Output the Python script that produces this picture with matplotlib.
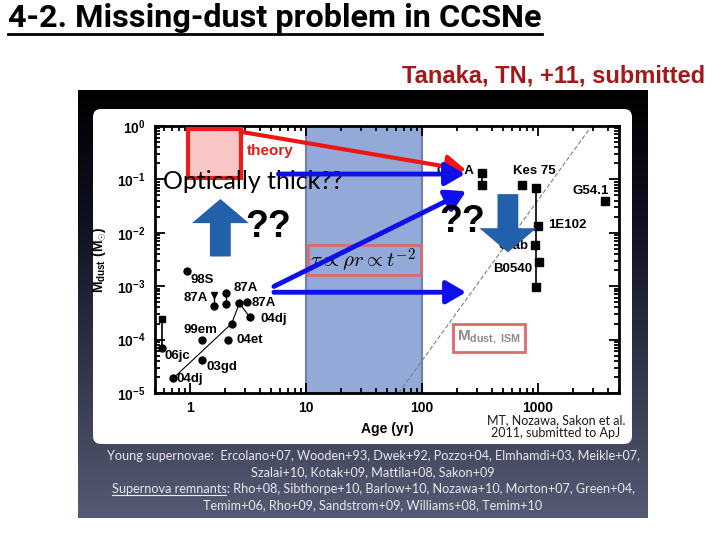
import numpy as np
import matplotlib
matplotlib.use('Agg')
import matplotlib.pyplot as plt
from matplotlib.patches import Rectangle, FancyBboxPatch
from matplotlib.colors import LinearSegmentedColormap
from matplotlib.ticker import NullFormatter

plt.rcParams['font.family'] = ['Liberation Sans', 'DejaVu Sans']
plt.rcParams['mathtext.fontset'] = 'custom'
plt.rcParams['mathtext.rm'] = 'Liberation Sans'
plt.rcParams['mathtext.bf'] = 'Liberation Sans:bold'
plt.rcParams['mathtext.it'] = 'Liberation Sans:italic'

# young supernovae (age in yr, dust mass in Msun)
sn98S_t = [0.95]
sn98S_m = [1.9e-3]
sn87A_a_t = [1.62, 1.62]
sn87A_a_m = [6.7e-4, 4.2e-4]
sn87A_b_t = [2.05, 2.05]
sn87A_b_m = [7.5e-4, 4.6e-4]
sn87A_c_t = [3.1]
sn87A_c_m = [5.0e-4]
sn04dj_t = [0.72, 2.29, 2.67, 3.3]
sn04dj_m = [1.9e-5, 2.0e-4, 4.8e-4, 2.6e-4]
sn99em_t = [1.26]
sn99em_m = [1.0e-4]
sn04et_t = [2.12]
sn04et_m = [1.0e-4]
sn03gd_t = [1.26]
sn03gd_m = [4.1e-5]
sn06jc_t = [0.575, 0.575]
sn06jc_m = [2.46e-4, 7.06e-5]

# supernova remnants
casA_t = [330, 330]
casA_m = [0.129, 0.079]
kes75_t = [728]
kes75_m = [0.079]
crabgrp_t = [957, 957]          # vertical range line
crabgrp_m = [0.069, 9.6e-4]
snr_x1000_t = [957, 1002, 938, 1016, 957]
snr_x1000_m = [0.069, 0.0136, 5.8e-3, 2.9e-3, 9.6e-4]
g541_t = [3810]
g541_m = [0.039]

# swept-up ISM dust mass line
ism_t = [63, 2900]
ism_m = [1.0e-5, 1.0]

# point labels: text, age, mass (label centres)
labels = [
    ('98S', 1.28, 1.33e-3), ('87A', 1.13, 5.9e-4), ('87A', 3.01, 9.1e-4),
    ('87A', 4.31, 4.95e-4), ('04dj', 5.26, 2.39e-4), ('99em', 1.23, 1.49e-4),
    ('04et', 3.26, 9.7e-5), ('06jc', 0.776, 4.85e-5), ('03gd', 1.9, 3.02e-5),
    ('04dj', 1.0, 1.8e-5), ('Cas A', 195, 0.146), ('Kes 75', 940, 0.146),
    ('G54.1', 2870, 0.0617), ('1E102', 1810, 0.0142), ('Crab', 620, 5.75e-3),
    ('B0540', 607, 2.14e-3),
]

refs = [
    'Young supernovae:  Ercolano+07, Wooden+93, Dwek+92, Pozzo+04, Elmhamdi+03, Meikle+07,',
    'Szalai+10, Kotak+09, Mattila+08, Sakon+09',
    'Supernova remnants: Rho+08, Sibthorpe+10, Barlow+10, Nozawa+10, Morton+07, Green+04,',
    'Temim+06, Rho+09, Sandstrom+09, Williams+08, Temim+10',
]

fig = plt.figure(figsize=(7.2, 5.4), dpi=100)
fig.patch.set_facecolor('white')

# background in pixel units
bg = fig.add_axes([0, 0, 1, 1])
bg.set_xlim(0, 720)
bg.set_ylim(540, 0)
bg.axis('off')

cmap = LinearSegmentedColormap.from_list('panel', [(0, '#000000'), (0.3, '#0e1020'), (1, '#565b74')])
grad = np.linspace(0, 1, 256).reshape(-1, 1)
bg.imshow(grad, extent=[78, 648, 518, 90], cmap=cmap, aspect='auto', zorder=0)
bg.add_patch(FancyBboxPatch((93, 109), 539, 335, boxstyle='round,pad=0,rounding_size=8',
                            fc='white', ec='none', zorder=1))

title = bg.text(8, 27, '4-2. Missing-dust problem in CCSNe', fontsize=23.3, fontweight='bold',
                family=['Roboto', 'DejaVu Sans'], va='baseline', ha='left')
bg.text(705, 82, 'Tanaka, TN, +11, submitted', fontsize=17, fontweight='bold',
        color='#a31818', ha='right', va='baseline')

bg.text(556, 420, 'MT, Nozawa, Sakon et al.', fontsize=9, family=['Lato', 'DejaVu Sans'],
        color='#1a1a1a', ha='center', va='center', zorder=2)
bg.text(556, 433, '2011, submitted to ApJ', fontsize=9, family=['Lato', 'DejaVu Sans'],
        color='#1a1a1a', ha='center', va='center', zorder=2)

ref_fs = 9.1
ref_y = [456, 472, 489, 505]
ref_texts = []
for line, yy in zip(refs, ref_y):
    t = bg.text(373, yy, line, fontsize=ref_fs, family=['Lato', 'DejaVu Sans'], color='#e8e8f0',
                ha='center', va='center', zorder=2)
    ref_texts.append(t)

# main plot
ax = fig.add_axes([155 / 720, (540 - 393) / 540, 464 / 720, 267 / 540])
ax.set_xscale('log')
ax.set_yscale('log')
ax.set_xlim(0.5, 5000)
ax.set_ylim(1e-5, 1)

ax.axvspan(10, 100, facecolor='#93aad9', edgecolor='#6f7fb5', lw=1.5, zorder=0)
ax.plot(ism_t, ism_m, color='#808080', lw=0.8, ls=(0, (4, 2)), zorder=1)

ms_c = 5
ms_s = 5.5
ax.plot(sn98S_t, sn98S_m, 'o', color='black', ms=ms_c, zorder=3)
ax.plot(sn87A_a_t, sn87A_a_m, '-', color='black', lw=1, zorder=3)
ax.plot(sn87A_a_t[:1], sn87A_a_m[:1], 'v', color='black', ms=ms_c, zorder=3)
ax.plot(sn87A_a_t[1:], sn87A_a_m[1:], 'o', color='black', ms=ms_c, zorder=3)
ax.plot(sn87A_b_t, sn87A_b_m, 'o-', color='black', ms=ms_c, lw=1, zorder=3)
ax.plot(sn87A_c_t, sn87A_c_m, 'o', color='black', ms=ms_c, zorder=3)
ax.plot(sn04dj_t, sn04dj_m, 'o-', color='black', ms=ms_c, lw=0.8, zorder=3)
ax.plot(sn99em_t, sn99em_m, 'o', color='black', ms=ms_c, zorder=3)
ax.plot(sn04et_t, sn04et_m, 'o', color='black', ms=ms_c, zorder=3)
ax.plot(sn03gd_t, sn03gd_m, 'o', color='black', ms=ms_c, zorder=3)
ax.plot(sn06jc_t, sn06jc_m, '-', color='black', lw=1.2, zorder=3)
ax.plot(sn06jc_t[:1], sn06jc_m[:1], 's', color='black', ms=ms_s - 1, zorder=3)
ax.plot(sn06jc_t[1:], sn06jc_m[1:], 'o', color='black', ms=ms_c, zorder=3)

ax.plot(casA_t, casA_m, 's-', color='black', ms=ms_s, lw=1.2, zorder=3)
ax.plot(kes75_t, kes75_m, 's', color='black', ms=ms_s, zorder=3)
ax.plot(crabgrp_t, crabgrp_m, '-', color='black', lw=1.2, zorder=3)
ax.plot(snr_x1000_t, snr_x1000_m, 's', color='black', ms=ms_s, zorder=3)
ax.plot(g541_t, g541_m, 's', color='black', ms=ms_s, zorder=3)

for txt, tx, ty in labels:
    ax.text(tx, ty, txt, fontsize=9.5, fontweight='bold', ha='center', va='center', zorder=4)

# annotations
ax.add_patch(Rectangle((0.97, 0.106), 2.75 - 0.97, 0.87 - 0.106, fc='#f9c6c6', ec='#ee1b1b',
                       lw=3, zorder=5))
ax.text(3.07, 0.344, 'theory', color='#e51c1c', fontsize=11, fontweight='bold',
        ha='left', va='center', zorder=5)
ax.text(0.587, 0.0904, 'Optically thick??', fontsize=18, family=['Lato', 'DejaVu Sans'],
        ha='left', va='center', zorder=6)

ax.add_patch(Rectangle((10.5, 1.6e-3), 98 - 10.5, 6e-3 - 1.6e-3, fc='none', ec='#dd6b6b',
                       lw=2, zorder=2))
ax.text(31, 3.1e-3, r'$\tau \propto \rho r \propto t^{-2}$', fontsize=15, math_fontfamily='cm',
        ha='center', va='center', zorder=2)

ax.add_patch(Rectangle((186, 5.8e-5), 780 - 186, 2.0e-4 - 5.8e-5, fc='white', ec='#dd6b6b',
                       lw=2, zorder=2))
ax.text(380, 1.08e-4, r'$\mathbf{M_{dust,\ ISM}}$', fontsize=11, color='#8a8a8a',
        ha='center', va='center', zorder=2)

ax.annotate('', xy=(240, 0.15), xytext=(2.73, 0.78),
            arrowprops=dict(arrowstyle='-|>,head_length=0.6,head_width=0.35', color='#ee1515',
                            lw=3, mutation_scale=20, shrinkA=0, shrinkB=0), zorder=7)
blue = '#0d10ea'
for start, end in [((5.8, 0.126), (235, 0.126)), ((5.3, 9.9e-4), (240, 0.06)),
                   ((5.3, 7.7e-4), (240, 7.7e-4))]:
    ax.annotate('', xy=end, xytext=start,
                arrowprops=dict(arrowstyle='-|>,head_length=0.6,head_width=0.35', color=blue,
                                lw=3.5, mutation_scale=20, shrinkA=0, shrinkB=0), zorder=7)

block = 'simple,head_length=0.87,head_width=2.05,tail_width=0.75'
ax.annotate('', xy=(1.83, 0.043), xytext=(1.83, 3.6e-3),
            arrowprops=dict(arrowstyle=block, mutation_scale=20, fc='#2260ab', ec='none',
                            shrinkA=0, shrinkB=0), zorder=8)
ax.annotate('', xy=(551, 4.3e-3), xytext=(551, 0.053),
            arrowprops=dict(arrowstyle=block, mutation_scale=20, fc='#2260ab', ec='none',
                            shrinkA=0, shrinkB=0), zorder=8)
for qx, qy in [(4.69, 0.013), (223, 0.0162)]:
    ax.text(qx, qy, '??', fontsize=27, fontweight='bold',
            family=['Liberation Sans', 'DejaVu Sans'], ha='center', va='center', zorder=8)

ax.set_xticks([1, 10, 100, 1000])
ax.set_xticklabels(['1', '10', '100', '1000'], fontweight='bold', fontsize=10)
ax.set_yticks(10.0 ** np.arange(-5, 1))
ax.set_yticklabels([r'$\mathbf{10^{%d}}$' % e for e in range(-5, 1)], fontsize=10)
ax.xaxis.set_minor_formatter(NullFormatter())
ax.yaxis.set_minor_formatter(NullFormatter())
ax.tick_params(which='both', direction='in', top=True, right=True, width=1.3)
ax.tick_params(which='major', length=7)
ax.tick_params(which='minor', length=3.5)
ax.tick_params(axis='x', pad=6)
ax.tick_params(axis='y', pad=7)
for s in ax.spines.values():
    s.set_linewidth(2)
ax.set_xlabel('Age (yr)', fontweight='bold', fontsize=10, labelpad=5)
ax.set_ylabel(r'$\mathbf{M_{dust}\ (M_{\odot})}$', fontsize=10, labelpad=6)

# underlines
fig.canvas.draw()
r = fig.canvas.get_renderer()
inv = bg.transData.inverted()
bb = title.get_window_extent(r)
(x0, _), (x1, _) = inv.transform([[bb.x0, bb.y0], [bb.x1, bb.y0]])
bg.plot([x0, x1], [34, 34], color='black', lw=2, zorder=3)

t3 = ref_texts[2]
bb3 = t3.get_window_extent(r)
head = bg.text(0, 0, 'Supernova remnants', fontsize=ref_fs, family=['Lato', 'DejaVu Sans'])
hw = head.get_window_extent(r).width
head.remove()
(u0, _), (u1, _) = inv.transform([[bb3.x0, bb3.y0], [bb3.x0 + hw, bb3.y0]])
bg.plot([u0, u1], [ref_y[2] + 5.5, ref_y[2] + 5.5], color='#e8e8f0', lw=0.8, zorder=3)

fig.savefig('out.png', dpi=100)
